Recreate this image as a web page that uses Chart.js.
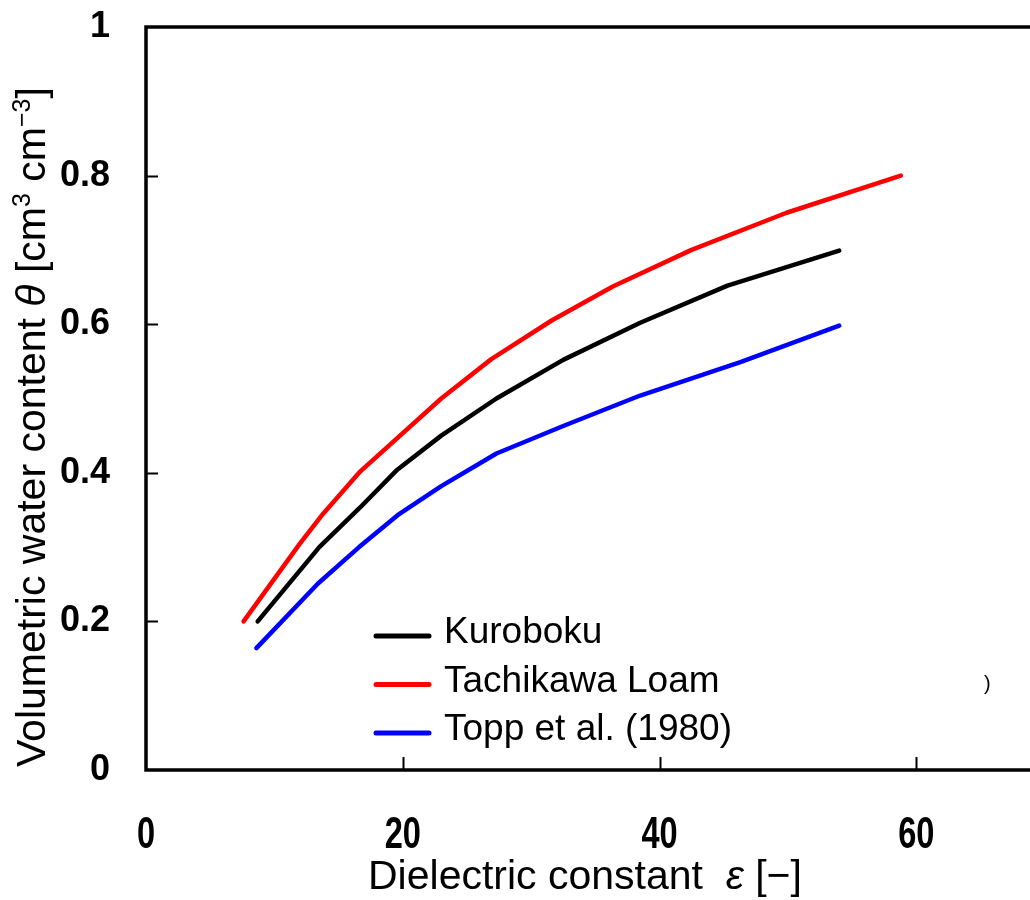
<!DOCTYPE html>
<html>
<head>
<meta charset="utf-8">
<script src="https://cdn.jsdelivr.net/npm/chart.js@4"></script>
<style>
  html, body { margin: 0; padding: 0; background: #fff; overflow: hidden; }
  #wrap { width: 1030px; height: 900px; overflow: hidden; }
</style>
</head>
<body>
<div id="wrap"><canvas id="chart" width="1200" height="900"></canvas></div>
<script>
// dielectric constant (x) and volumetric water content (y) for each calibration curve
const seriesNames = ['Kuroboku', 'Tachikawa Loam', 'Topp et al. (1980)'];

const kurobokuEps   = [8.7, 13.5, 16.6, 19.5, 23.0, 27.3, 32.5, 38.5, 45.3, 54.0];
const kurobokuTheta = [0.20, 0.30, 0.352, 0.403, 0.45, 0.50, 0.552, 0.602, 0.652, 0.699];

const tachikawaEps   = [7.6, 12.0, 13.8, 16.7, 23.0, 26.9, 31.6, 36.4, 42.5, 49.9, 58.8];
const tachikawaTheta = [0.20, 0.305, 0.345, 0.402, 0.50, 0.553, 0.605, 0.651, 0.70, 0.75, 0.80];

const toppEps   = [8.6, 13.4, 16.6, 19.6, 23.0, 27.3, 32.5, 38.5, 46.3, 54.0];
const toppTheta = [0.164, 0.251, 0.30, 0.343, 0.382, 0.426, 0.463, 0.504, 0.549, 0.598];

const seriesColors = ['#000000', '#ff0000', '#0000ff'];

const xTickStep = 20;
const yTickStep = 0.2;

const toPoints = (xs, ys) => xs.map((x, i) => ({ x: x, y: ys[i] }));

const sans = "'Liberation Sans', Arial, sans-serif";

// frame, inward ticks, x tick labels, legend and axis titles
const decorPlugin = {
  id: 'decor',
  afterDraw(chart) {
    const ctx = chart.ctx;
    const { left, right, top, bottom } = chart.chartArea;
    const xs = chart.scales.x, ys = chart.scales.y;

    ctx.save();
    ctx.strokeStyle = '#000';
    ctx.lineWidth = 3.5;
    ctx.strokeRect(left, top, right - left, bottom - top);

    ctx.lineWidth = 2;
    ctx.beginPath();
    xs.ticks.forEach(t => {
      if (t.value <= xs.min || t.value >= xs.max) return;
      const px = Math.round(xs.getPixelForValue(t.value)) + 0.5;
      ctx.moveTo(px, bottom);
      ctx.lineTo(px, bottom - 13);
    });
    ys.ticks.forEach(t => {
      if (t.value <= ys.min || t.value >= ys.max) return;
      const py = Math.round(ys.getPixelForValue(t.value)) + 0.5;
      ctx.moveTo(left, py);
      ctx.lineTo(left + 12, py);
    });
    ctx.stroke();

    // x tick labels, condensed bold
    ctx.fillStyle = '#000';
    ctx.font = 'bold 44px ' + sans;
    ctx.textAlign = 'center';
    ctx.textBaseline = 'alphabetic';
    xs.ticks.forEach(t => {
      const px = xs.getPixelForValue(t.value);
      ctx.save();
      ctx.translate(px, 848);
      ctx.scale(0.74, 1);
      ctx.fillText(t.label, 0, 0);
      ctx.restore();
    });
    ctx.textAlign = 'left';

    // legend
    ctx.lineCap = 'round';
    ctx.lineWidth = 5;
    ctx.font = '37px ' + sans;
    ctx.textBaseline = 'middle';
    chart.data.datasets.forEach((ds, i) => {
      const y = 636 + i * 48.5;
      ctx.strokeStyle = ds.borderColor;
      ctx.beginPath();
      ctx.moveTo(376, y);
      ctx.lineTo(429, y);
      ctx.stroke();
      ctx.fillText(ds.label, 444, y - 3);
    });

    // x title
    ctx.textBaseline = 'alphabetic';
    let x = 368;
    const xParts = [
      ['Dielectric constant  ', '41px ' + sans],
      ['\u03b5', 'italic 41px ' + sans],
      [' [\u2212]', '41px ' + sans]
    ];
    xParts.forEach(([s, f]) => {
      ctx.font = f;
      ctx.fillText(s, x, 889);
      x += ctx.measureText(s).width;
    });

    // y title, rotated
    ctx.translate(45, 767);
    ctx.rotate(-Math.PI / 2);
    let p = 0;
    const yParts = [
      ['Volumetric water content ', '41px ' + sans, 0],
      ['\u03b8', 'italic 41px ' + sans, 0],
      [' [cm', '41px ' + sans, 0],
      ['3', '25px ' + sans, -15],
      [' cm', '41px ' + sans, 0],
      ['\u22123', '25px ' + sans, -15],
      [']', '41px ' + sans, 0]
    ];
    yParts.forEach(([s, f, dy]) => {
      ctx.font = f;
      ctx.fillText(s, p, dy);
      p += ctx.measureText(s).width;
    });
    ctx.restore();

    // stray bracket at the right edge of the plot
    ctx.save();
    ctx.font = '20px ' + sans;
    ctx.textBaseline = 'middle';
    ctx.fillStyle = '#000';
    ctx.fillText(')', 984, 684);
    ctx.restore();
  }
};

const datasets = [
  { label: seriesNames[0], data: toPoints(kurobokuEps, kurobokuTheta), borderColor: seriesColors[0] },
  { label: seriesNames[1], data: toPoints(tachikawaEps, tachikawaTheta), borderColor: seriesColors[1] },
  { label: seriesNames[2], data: toPoints(toppEps, toppTheta), borderColor: seriesColors[2] }
].map(d => Object.assign(d, {
  borderWidth: 4.5,
  pointRadius: 0,
  tension: 0,
  fill: false,
  borderCapStyle: 'round',
  borderJoinStyle: 'round'
}));

new Chart(document.getElementById('chart').getContext('2d'), {
  type: 'line',
  data: { datasets: datasets },
  options: {
    responsive: false,
    animation: false,
    devicePixelRatio: 1,
    layout: { padding: { top: 27, right: 27, left: 0, bottom: 0 } },
    plugins: {
      legend: { display: false },
      tooltip: { enabled: false }
    },
    scales: {
      x: {
        type: 'linear',
        min: 0,
        max: 80,
        grid: { display: false, drawTicks: false },
        border: { display: false },
        ticks: { stepSize: xTickStep, display: false },
        afterFit(scale) {
          scale.height = 130;
          scale.paddingLeft = 0;
          scale.paddingRight = 0;
        }
      },
      y: {
        type: 'linear',
        min: 0,
        max: 1,
        grid: { display: false, drawTicks: false },
        border: { display: false },
        ticks: {
          stepSize: yTickStep,
          padding: 36,
          color: '#000',
          font: { family: sans, size: 36, weight: 'bold' },
          callback: v => String(+v.toFixed(1))
        },
        afterFit(scale) {
          scale.width = 146;
          scale.paddingTop = 0;
          scale.paddingBottom = 0;
        }
      }
    }
  },
  plugins: [decorPlugin]
});
</script>
</body>
</html>
